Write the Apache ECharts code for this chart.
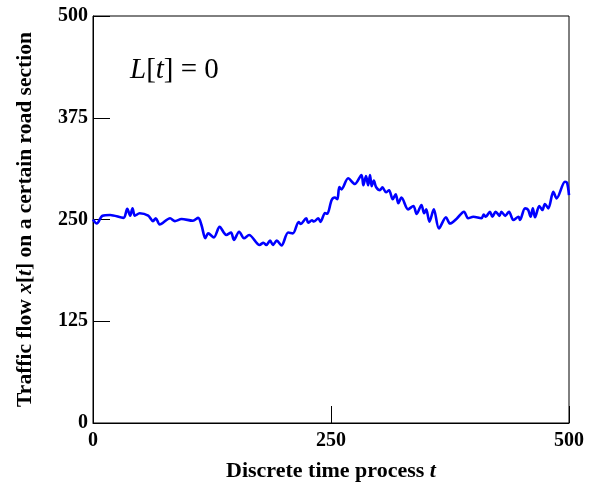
<!DOCTYPE html>
<html>
<head>
<meta charset="utf-8">
<script src="https://cdn.jsdelivr.net/npm/echarts@6/dist/echarts.min.js"></script>
<style>
  html, body { margin: 0; padding: 0; background: #fff; }
  #chart { width: 600px; height: 489px; }
</style>
</head>
<body>
<div id="chart"></div>
<script>
// Discrete time steps and the traffic flow observed at each step
var timeSteps = [0, 4, 10, 18, 32, 36, 39, 41.5, 44, 49, 58, 63, 66, 70, 81, 86, 93, 105, 110.5, 114,
  118, 121, 127, 133, 140, 145, 148, 153.5, 158.6, 164, 175, 179, 182, 186, 189, 193, 198, 205, 210, 216,
  218, 224, 226, 230, 232, 236.6, 239, 243.7, 246, 250.7, 254, 256.7, 258.7, 261, 268, 275, 282, 284, 286.8, 289,
  291, 292.7, 295, 297.3, 301.5, 304, 307.8, 311, 314.8, 318, 320.7, 324, 331, 336.5, 340, 345, 347.8, 350, 353.4, 358,
  363.4, 370.8, 375, 382, 389.7, 394, 399.5, 408, 410.5, 412.6, 417, 419.5, 423, 427, 429, 433, 437, 441.5, 447, 448.5,
  453.8, 457, 459.7, 462, 464.3, 468.8, 472, 474.7, 478.3, 483.5, 487, 495.8, 498, 500];
var flowValues = [250, 245, 254.7, 255.5, 252, 263, 254.7, 263.7, 254.7, 257.6, 254.7, 248, 251.5, 244, 251.5, 248, 250.6, 248.5, 252, 243,
  227, 233, 228, 241, 231, 234, 225, 235, 227, 231, 218.7, 221.5, 218.7, 224, 218.7, 224, 218, 234, 233, 247,
  244.5, 251.5, 246, 249, 247.5, 251.5, 247, 258, 257, 274, 277, 275, 290, 287, 300.6, 293.6, 304.7, 292, 303.4, 292,
  304.7, 291, 297.7, 290, 286, 289.5, 283.4, 286, 274.8, 281, 270, 277, 262.5, 266.6, 256.8, 267.8, 257.6, 262.5, 247.3, 262.5,
  239, 252.7, 245, 251, 259.6, 251.5, 253.4, 251.5, 256, 253.4, 259.6, 253.4, 259.6, 254.5, 259.6, 254.5, 259.6, 249.4, 253.4, 249.4,
  263.7, 262, 253.4, 263.7, 252.7, 266.6, 261.6, 269, 263.7, 284, 276, 296.4, 295, 280];

// Axis ranges and tick spacing
var xRange = [0, 500];
var yRange = [0, 500];
var xStep = 250;
var yStep = 125;

var seriesData = timeSteps.map(function (t, i) { return [t, flowValues[i]]; });

var serif = '"Liberation Serif", "Times New Roman", serif';

var chart = echarts.init(document.getElementById('chart'), null, { renderer: 'canvas' });
chart.setOption({
  animation: false,
  backgroundColor: '#fff',
  grid: {
    left: 93, right: 31, top: 16, bottom: 66,
    show: true, borderColor: '#000', borderWidth: 1
  },
  xAxis: {
    type: 'value',
    min: xRange[0], max: xRange[1], interval: xStep,
    axisLine: { show: true, lineStyle: { color: '#000', width: 1 } },
    axisTick: { show: true, inside: true, length: 17, lineStyle: { color: '#000' } },
    splitLine: { show: false },
    axisLabel: { color: '#000', fontFamily: serif, fontWeight: 'bold', fontSize: 20, margin: 8 },
    name: '{a|Discrete time process }{b|t}',
    nameLocation: 'middle',
    nameGap: 37,
    nameTextStyle: {
      rich: {
        a: { color: '#000', fontFamily: serif, fontWeight: 'bold', fontSize: 22 },
        b: { color: '#000', fontFamily: serif, fontWeight: 'bold', fontStyle: 'italic', fontSize: 22 }
      }
    }
  },
  yAxis: {
    type: 'value',
    min: yRange[0], max: yRange[1], interval: yStep,
    axisLine: { show: true, lineStyle: { color: '#000', width: 1 } },
    axisTick: { show: true, inside: true, length: 17, lineStyle: { color: '#000' } },
    splitLine: { show: false },
    axisLabel: { color: '#000', fontFamily: serif, fontWeight: 'bold', fontSize: 20, margin: 5 },
    name: '{a|Traffic flow }{b|x}{a|[}{b|t}{a|] on a certain road section}',
    nameLocation: 'middle',
    nameGap: 57,
    nameTextStyle: {
      rich: {
        a: { color: '#000', fontFamily: serif, fontWeight: 'bold', fontSize: 21.5 },
        b: { color: '#000', fontFamily: serif, fontWeight: 'bold', fontStyle: 'italic', fontSize: 21.5 }
      }
    }
  },
  graphic: [{
    type: 'text',
    left: 130,
    top: 56,
    style: {
      text: '{i|L}{n|[}{i|t}{n|] = 0}',
      rich: {
        i: { fontFamily: serif, fontStyle: 'italic', fontSize: 29, fill: '#000' },
        n: { fontFamily: serif, fontSize: 29, fill: '#000' }
      }
    }
  }],
  series: [{
    type: 'line',
    data: seriesData,
    smooth: 0.3,
    showSymbol: false,
    clip: true,
    lineStyle: { color: '#0000ff', width: 2.6 }
  }]
});
</script>
</body>
</html>
